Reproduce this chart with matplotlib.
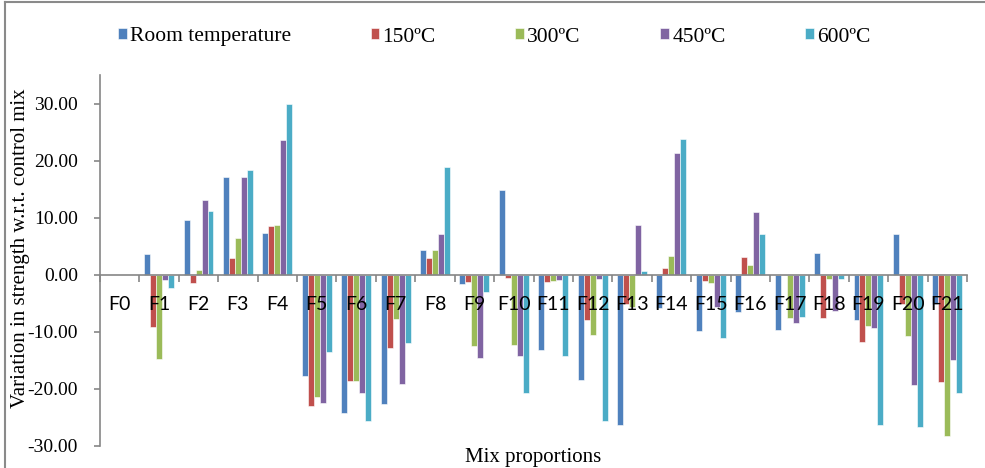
import numpy as np
from matplotlib import pyplot as plt
from matplotlib.lines import Line2D

# values
mixes = ['F%d' % i for i in range(22)]
room = [0, 3.7, 9.6, 17.1, 7.3, -17.8, -24.2, -22.7, 4.4, -1.6, 14.9, -13.2,
        -18.4, -26.3, -5.8, -9.9, -6.6, -9.7, 3.8, -8.0, 7.2, -5.2]
t150 = [0, -9.2, -1.4, 3.0, 8.6, -23.0, -18.6, -12.8, 2.9, -1.3, -0.5, -1.2,
        -8.0, -5.1, 1.2, -1.1, 3.2, 0, -7.5, -11.7, -5.1, -18.7]
t300 = [0, -14.8, 0.8, 6.4, 8.8, -21.5, -18.6, -7.7, 4.3, -12.5, -12.3, -1.1,
        -10.6, -5.6, 3.3, -1.4, 1.7, -7.5, -0.8, -8.9, -10.7, -28.2]
t450 = [0, -1.0, 13.1, 17.1, 23.6, -22.4, -20.7, -19.2, 7.1, -14.5, -14.3, -0.9,
        -0.7, 8.7, 21.3, -5.6, 11.0, -8.5, -6.4, -9.3, -19.4, -14.9]
t600 = [0, -2.3, 11.2, 18.4, 29.9, -13.5, -25.6, -11.9, 18.9, -3.1, -20.8, -14.2,
        -25.7, 0.7, 23.7, -11.0, 7.2, -7.4, -0.8, -26.3, -26.7, -20.8]

series = [room, t150, t300, t450, t600]
names = ['Room temperature', '150ºC', '300ºC', '450ºC', '600ºC']
colors = ['#4F81BD', '#C0504D', '#9BBB59', '#8064A2', '#4BACC6']
y_ticks = [-30, -20, -10, 0, 10, 20, 30]

grey = '#868686'
serif = 'Liberation Serif'

fig = plt.figure(figsize=(9.85, 4.68), dpi=100)
ax = fig.add_axes([100 / 985, 22 / 468, 867 / 985, 371 / 468])

x = np.arange(len(mixes))
w = 0.152
for i, (vals, name, c) in enumerate(zip(series, names, colors)):
    ax.bar(x + (i - 2) * w, vals, width=w, color=c, edgecolor='white',
           linewidth=0.4, label=name, zorder=1)

ax.set_xlim(-0.5, len(mixes) - 0.5)
ax.set_ylim(-30, 35)
ax.set_yticks(y_ticks)
ax.set_yticklabels(['%.2f' % v for v in y_ticks], fontfamily=serif, fontsize=14)

ax.spines['top'].set_visible(False)
ax.spines['right'].set_visible(False)
ax.spines['bottom'].set_position(('data', 0))
for s in ['left', 'bottom']:
    ax.spines[s].set_color(grey)
    ax.spines[s].set_linewidth(1.2)
ax.spines['left'].set_bounds(-30, 35)

ax.set_xticks(x)
ax.set_xticklabels(mixes, fontfamily='Lato', fontsize=14)
ax.set_xticks(np.arange(-0.5, len(mixes), 1.0), minor=True)
ax.tick_params(axis='x', which='major', length=0, pad=15)
ax.tick_params(axis='x', which='minor', length=5, width=1.2, color=grey, direction='out')
ax.tick_params(axis='y', length=4, width=1.2, color=grey, pad=12)

ax.set_xlabel('Mix proportions', fontfamily=serif, fontsize=15)
ax.xaxis.set_label_coords(0.5, -0.005)
fig.text(21 / 985, 1 - 248 / 468, 'Variation in strength w.r.t. control mix',
         rotation=90, ha='center', va='center', fontfamily=serif, fontsize=15)

fig.legend(loc='center left', bbox_to_anchor=(118 / 985, 1 - 37 / 468), ncol=5,
           frameon=False, prop={'family': serif, 'size': 15.5}, borderpad=0,
           borderaxespad=0, handlelength=0.4, handleheight=0.4,
           handletextpad=0.15, columnspacing=3.7)

# outer chart border (top and left edges visible in the crop)
fig.add_artist(Line2D([5 / 985, 5 / 985], [0, 1 - 2 / 468], color='#8a8a8a', lw=1.5))
fig.add_artist(Line2D([5 / 985, 1], [1 - 2 / 468, 1 - 2 / 468], color='#8a8a8a', lw=1.5))

plt.savefig('out.png', dpi=100)
